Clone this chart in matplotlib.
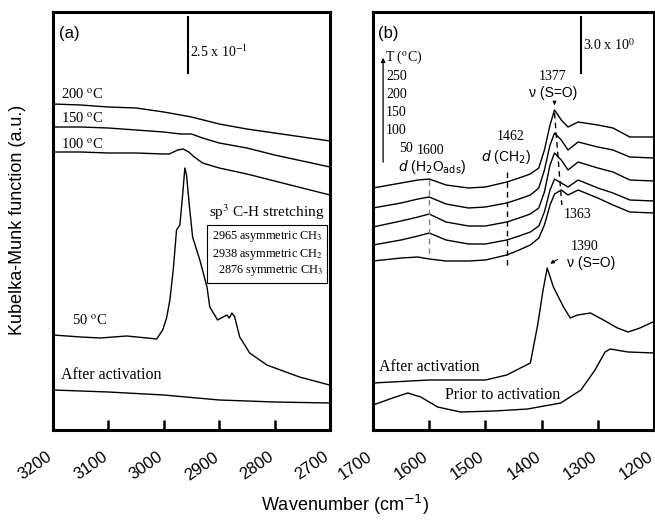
import matplotlib
matplotlib.use("Agg")
import matplotlib.pyplot as plt
import numpy as np

SERIF = "Liberation Serif"
SANS = "Liberation Sans"

# ---------------- panel (a): C-H stretching region ----------------
wn_a_200 = [3200, 3150, 3100, 3050, 3000, 2950, 2900, 2850, 2800, 2750, 2700]
km_a_200 = [3.26, 3.25, 3.23, 3.22, 3.18, 3.13, 3.06, 3.01, 2.97, 2.93, 2.89]

wn_a_150 = [3200, 3150, 3100, 3050, 3000, 2970, 2950, 2930, 2900, 2850, 2800, 2750, 2700]
km_a_150 = [3.03, 3.03, 3.02, 3.00, 2.98, 2.96, 2.96, 2.92, 2.87, 2.82, 2.75, 2.69, 2.63]

wn_a_100 = [3200, 3150, 3100, 3050, 3000, 2990, 2975, 2965, 2955, 2945, 2930,
            2900, 2850, 2800, 2750, 2700]
km_a_100 = [2.78, 2.78, 2.77, 2.77, 2.76, 2.76, 2.80, 2.81, 2.78, 2.73, 2.67,
            2.62, 2.56, 2.49, 2.42, 2.35]

wn_a_50 = [3200, 3150, 3115, 3067, 3030, 3013, 3002, 2995, 2989, 2983, 2977, 2971,
           2966, 2962, 2959, 2954, 2948, 2935, 2922, 2917, 2903, 2886, 2882, 2877,
           2872, 2863, 2845, 2814, 2755, 2701]
km_a_50 = [0.95, 0.93, 0.92, 0.94, 0.92, 0.91, 1.00, 1.12, 1.30, 1.60, 2.00, 2.05,
           2.35, 2.62, 2.55, 2.25, 1.93, 1.70, 1.43, 1.23, 1.10, 1.15, 1.12, 1.17,
           1.13, 0.93, 0.77, 0.65, 0.53, 0.45]

wn_a_act = [3200, 3100, 3000, 2900, 2800, 2700]
km_a_act = [0.40, 0.38, 0.35, 0.30, 0.28, 0.27]

# ---------------- panel (b): S=O / deformation region ----------------
wn_b = [1700, 1650, 1620, 1600, 1570, 1530, 1500, 1462, 1440, 1420, 1405,
        1395, 1385, 1377, 1365, 1353, 1335, 1300, 1273, 1243, 1200]
km_b_250 = [2.42, 2.47, 2.50, 2.51, 2.45, 2.42, 2.43, 2.48, 2.52, 2.56, 2.62,
            2.80, 3.05, 3.20, 3.10, 3.03, 3.08, 3.05, 3.02, 2.93, 2.93]
km_b_200 = [2.22, 2.27, 2.31, 2.33, 2.26, 2.22, 2.23, 2.27, 2.31, 2.35, 2.42,
            2.60, 2.85, 2.97, 2.90, 2.80, 2.88, 2.83, 2.80, 2.73, 2.72]
km_b_150 = [2.03, 2.09, 2.13, 2.16, 2.08, 2.04, 2.04, 2.08, 2.12, 2.16, 2.22,
            2.38, 2.65, 2.77, 2.70, 2.60, 2.68, 2.62, 2.58, 2.50, 2.49]
km_b_100 = [1.85, 1.90, 1.94, 1.97, 1.90, 1.86, 1.86, 1.90, 1.94, 1.98, 2.04,
            2.18, 2.40, 2.51, 2.47, 2.43, 2.50, 2.42, 2.37, 2.30, 2.29]
km_b_50 = [1.69, 1.72, 1.73, 1.71, 1.69, 1.69, 1.70, 1.75, 1.80, 1.85, 1.92,
           2.05, 2.25, 2.36, 2.40, 2.35, 2.40, 2.32, 2.25, 2.18, 2.17]

wn_b_act = [1700, 1600, 1500, 1462, 1420, 1407, 1398, 1390, 1379, 1361, 1349,
            1336, 1313, 1290, 1265, 1246, 1225, 1202]
km_b_act = [0.47, 0.50, 0.50, 0.55, 0.67, 1.05, 1.38, 1.62, 1.43, 1.23, 1.12,
            1.15, 1.17, 1.10, 1.02, 0.98, 1.02, 1.08]

wn_b_prior = [1700, 1660, 1638, 1615, 1585, 1544, 1484, 1425, 1366, 1330, 1305,
              1287, 1278, 1246, 1200]
km_b_prior = [0.25, 0.33, 0.37, 0.33, 0.23, 0.18, 0.19, 0.21, 0.27, 0.40, 0.60,
              0.78, 0.81, 0.78, 0.77]

temps_b = ["250", "200", "150", "100", "50"]

fig = plt.figure(figsize=(6.55, 5.23), dpi=100)
ax_a = fig.add_axes([53 / 655, 93 / 523, 277 / 655, 418 / 523])
ax_b = fig.add_axes([373 / 655, 93 / 523, 281 / 655, 418 / 523])

lw = 1.0
for wn, km in [(wn_a_200, km_a_200), (wn_a_150, km_a_150), (wn_a_100, km_a_100),
               (wn_a_50, km_a_50), (wn_a_act, km_a_act)]:
    ax_a.plot(wn, km, color="black", lw=lw)

for km in [km_b_250, km_b_200, km_b_150, km_b_100, km_b_50]:
    ax_b.plot(wn_b, km, color="black", lw=lw)
ax_b.plot(wn_b_act, km_b_act, color="black", lw=lw)
ax_b.plot(wn_b_prior, km_b_prior, color="black", lw=lw)

ax_a.set_xlim(3200, 2700)
ax_b.set_xlim(1700, 1200)
ax_a.set_xticks([3200, 3100, 3000, 2900, 2800, 2700])
ax_b.set_xticks([1700, 1600, 1500, 1400, 1300, 1200])
for ax in (ax_a, ax_b):
    ax.set_ylim(0, 4.18)
    ax.set_yticks([])
    for s in ax.spines.values():
        s.set_linewidth(2.2)
    ax.tick_params(axis="x", direction="in", length=7, width=1.8, pad=21,
                   labelsize=12)
    for lab in ax.get_xticklabels():
        lab.set_rotation(35)
        lab.set_ha("right")
        lab.set_va("baseline")
        lab.set_rotation_mode("anchor")
        lab.set_fontfamily(SANS)

fig.text(0.027, 0.58, "Kubelka-Munk function (a.u.)", rotation=90,
         ha="center", va="center", fontsize=13, family=SANS)
fig.text(0.527, 0.035, "Wavenumber (cm$^{-1}$)", ha="center", va="center",
         fontsize=13, family=SANS)

# panel (a) annotations
ax_a.text(3190, 3.96, "(a)", fontsize=12, family=SANS, va="center")
ax_a.plot([2956, 2956], [4.13, 3.57], color="black", lw=1.5)
ax_a.text(2953, 3.78, "2.5 x 10$^{-1}$", fontsize=10, family=SERIF,
          va="center", math_fontfamily="stix")
for lbl, y in [("200 $^{\\mathrm{o}}$C", 3.28), ("150 $^{\\mathrm{o}}$C", 3.04),
               ("100 $^{\\mathrm{o}}$C", 2.78)]:
    ax_a.text(3185, y, lbl, fontsize=10.5, family=SERIF, va="bottom",
              math_fontfamily="stix")
ax_a.text(3165, 1.02, "50 $^{\\mathrm{o}}$C", fontsize=10.5, family=SERIF,
          va="bottom", math_fontfamily="stix")
ax_a.text(3185, 0.47, "After activation", fontsize=11.5, family=SERIF,
          va="bottom")
ax_a.text(2710, 2.18, "sp$^3$ C-H stretching", fontsize=11, family=SERIF,
          ha="right", va="center", math_fontfamily="stix")
ax_a.text(2713, 1.76,
          "2965 asymmetric CH$_3$\n2938 asymmetric CH$_2$\n2876 symmetric CH$_3$",
          fontsize=8.8, family=SERIF, ha="right", va="center", linespacing=1.2,
          math_fontfamily="stix",
          bbox=dict(boxstyle="square,pad=0.35", fc="white", ec="black", lw=0.8))

# panel (b) annotations
ax_b.text(1691, 3.96, "(b)", fontsize=12, family=SANS, va="center")
ax_b.plot([1330, 1330], [4.13, 3.57], color="black", lw=1.5)
ax_b.text(1326, 3.85, "3.0 x 10$^{0}$", fontsize=10, family=SERIF,
          va="center", math_fontfamily="stix")

ax_b.annotate("", xy=(1682, 3.75), xytext=(1682, 2.65),
              arrowprops=dict(arrowstyle="-|>", lw=0.9, color="black",
                              mutation_scale=6))
ax_b.text(1678, 3.73, "T ($^{\\mathrm{o}}$C)", fontsize=10, family=SERIF,
          va="center", math_fontfamily="stix")
for i, t in enumerate(temps_b):
    ax_b.text(1654 if t == "50" else 1677, 3.53 - i * 0.18, t, fontsize=10,
              family=SERIF, va="center")

ax_b.text(1597, 2.80, "1600", fontsize=10, family=SERIF, ha="center", va="center")
ax_b.text(1595, 2.63, "$d$ (H$_2$O$_{\\mathrm{ads}}$)", fontsize=10, family=SANS,
          ha="center", va="center")
ax_b.plot([1600, 1600], [2.50, 1.75], color="gray", lw=1.0, ls=(0, (4, 3)))

ax_b.text(1455, 2.93, "1462", fontsize=10, family=SERIF, ha="center", va="center")
ax_b.text(1464, 2.73, "$d$ (CH$_2$)", fontsize=10, family=SANS, ha="center",
          va="center")
ax_b.plot([1462, 1462], [2.58, 1.65], color="black", lw=1.0, ls=(0, (4, 3)))

ax_b.text(1380, 3.53, "1377", fontsize=10, family=SERIF, ha="center", va="center")
ax_b.text(1380, 3.37, "\u03bd (S=O)", fontsize=10, family=SANS, ha="center",
          va="center")
ax_b.annotate("", xy=(1377, 3.22), xytext=(1377, 3.30),
              arrowprops=dict(arrowstyle="-|>", lw=0.8, color="black",
                              mutation_scale=5))
ax_b.plot([1377, 1364], [3.17, 2.25], color="black", lw=1.0, ls=(0, (4, 3)))
ax_b.text(1360, 2.15, "1363", fontsize=10, family=SERIF, ha="left", va="center")

ax_b.text(1323, 1.83, "1390", fontsize=10, family=SERIF, ha="center", va="center")
ax_b.text(1311, 1.67, "\u03bd (S=O)", fontsize=10, family=SANS, ha="center",
          va="center")
ax_b.annotate("", xy=(1389, 1.65), xytext=(1367, 1.72),
              arrowprops=dict(arrowstyle="-|>", lw=0.8, color="black",
                              mutation_scale=5))

ax_b.text(1689, 0.63, "After activation", fontsize=11.5, family=SERIF,
          va="center")
ax_b.text(1572, 0.35, "Prior to activation", fontsize=11.5, family=SERIF,
          va="center")

fig.savefig("out.png", dpi=100)
